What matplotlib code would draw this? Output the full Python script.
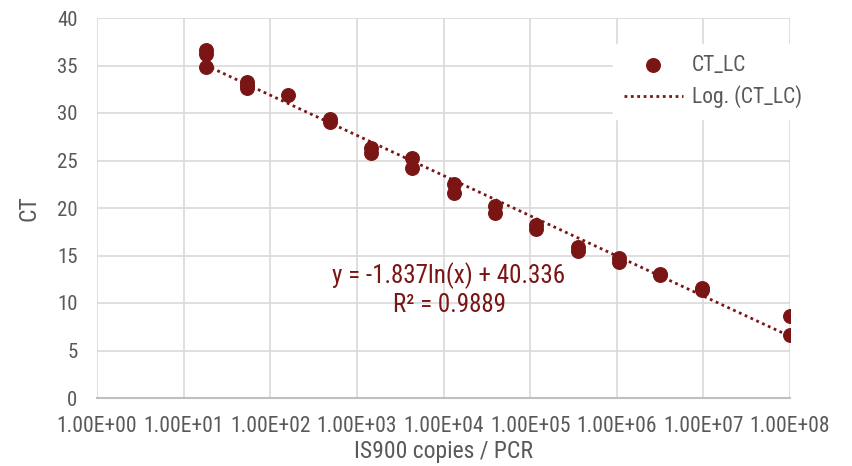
import numpy as np
import matplotlib.pyplot as plt
from matplotlib import font_manager

names = {f.name for f in font_manager.fontManager.ttflist}
cands = ['Roboto Condensed', 'Archivo Narrow', 'Liberation Sans Narrow', 'Barlow Semi Condensed', 'Roboto']
font = [c for c in cands if c in names][0]
plt.rcParams['font.family'] = [font, 'DejaVu Sans']

# IS900 copies per PCR (3-fold dilution series) and measured CT
copies = [18, 18, 18, 54, 54, 54, 162, 486, 486, 1458, 1458, 4374, 4374,
          13122, 13122, 39366, 39366, 118098, 118098, 354294, 354294,
          1062882, 1062882, 3188646, 3188646, 9565938, 9565938, 1e8, 1e8]
ct = [36.6, 36.2, 34.8, 33.3, 33.0, 32.6, 31.9, 29.4, 29.1, 26.3, 25.8, 25.3, 24.2,
      22.5, 21.6, 20.2, 19.5, 18.2, 17.8, 15.9, 15.5,
      14.7, 14.3, 13.1, 12.9, 11.6, 11.4, 8.6, 6.6]
slope = -1.837
intercept = 40.336
r2 = 0.9889
xticks = [10.0 ** k for k in range(9)]

red = '#7a1515'
grey = '#595959'

fig = plt.figure(figsize=(8.52, 4.66), dpi=100)
ax = fig.add_axes([97 / 852, 1 - 398 / 466, (790 - 97) / 852, (398 - 18) / 466])

xl = np.logspace(np.log10(min(copies)), np.log10(max(copies)), 200)
ax.plot(xl, slope * np.log(xl) + intercept, color=red, linestyle=(0, (1, 1.3)),
        linewidth=2.0, label='Log. (CT_LC)', zorder=2)
ax.scatter(copies, ct, s=95, color=red, label='CT_LC', zorder=3)

ax.set_xscale('log')
ax.set_xlim(1, 1e8)
ax.set_ylim(0, 40)
ax.set_xticks(xticks)
ax.set_xticklabels(['%.2E' % v for v in xticks])
ax.minorticks_off()
ax.set_yticks(range(0, 41, 5))
ax.grid(True, color='#d9d9d9', linewidth=1.2)
ax.set_axisbelow(True)
for s in ['top', 'right', 'left']:
    ax.spines[s].set_visible(False)
ax.spines['bottom'].set_color('#bfbfbf')
ax.spines['bottom'].set_linewidth(1.5)
ax.tick_params(axis='x', length=0, labelsize=15.5, labelcolor=grey, pad=13)
ax.tick_params(axis='y', length=0, labelsize=15, labelcolor=grey, pad=14)
ax.set_xlabel('IS900 copies / PCR', fontsize=17, color=grey, labelpad=2)
ax.set_ylabel('CT', fontsize=17, color=grey, labelpad=12)

ax.text(0.508, 0.285, 'y = -1.837ln(x) + 40.336\nR² = 0.9889', transform=ax.transAxes,
        ha='center', va='center', fontsize=18, color=red, linespacing=1.2)

handles, labels = ax.get_legend_handles_labels()
leg = fig.legend(handles[::-1], labels[::-1], loc='upper left',
                 bbox_to_anchor=(613 / 852, 1 - 44 / 466), frameon=True,
                 fontsize=15.5, labelcolor=grey, handlelength=2.75,
                 borderpad=0.5, labelspacing=0.45, handletextpad=0.42,
                 borderaxespad=0)
leg.get_frame().set_edgecolor('white')
leg.get_frame().set_facecolor('white')
leg.get_frame().set_alpha(1)

fig.savefig('out.png', dpi=100)
